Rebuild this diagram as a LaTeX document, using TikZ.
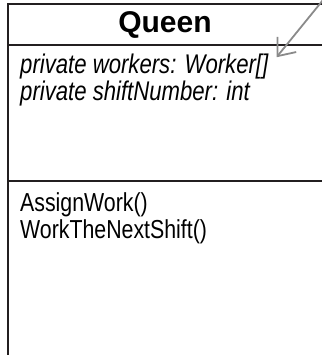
\documentclass[tikz,border=0pt]{standalone}
\usepackage{fontspec}
\setmainfont{Liberation Sans}
\newfontfamily\narrowfont[FakeStretch=0.82]{Liberation Sans}
\usetikzlibrary{arrows.meta}
\definecolor{boxgray}{HTML}{231F20}
\definecolor{pointergray}{HTML}{8A8A8A}
\tikzset{
  boxline/.style={draw=boxgray, line width=2bp},
  member/.style={anchor=base west, inner sep=0pt, font=\narrowfont\fontsize{26bp}{27bp}\selectfont},
  field/.style={member, font=\narrowfont\itshape\fontsize{27bp}{28bp}\selectfont},
  pointer/.style={draw=pointergray, line width=1.8bp, -{Straight Barb[length=15bp, width=24bp, line width=1.8bp]}}
}
\begin{document}
\begin{tikzpicture}[x=1bp, y=-1bp]
    \useasboundingbox (0,0) rectangle (322,355);

    % Class box
    \draw[boxline] (8,4) rectangle (330,370);
    \draw[boxline] (8,44.5) -- (330,44.5);
    \draw[boxline] (8,181) -- (330,181);

    \node[font=\bfseries\fontsize{30bp}{31bp}\selectfont] (name) at (165,25) {Queen};

    % Fields
    \node[field] (workers) at (20,73) {private workers: Worker[]};
    \node[field] (shift) at (20,100) {private shiftNumber: int};

    % Methods
    \node[member] (assign) at (20,211) {AssignWork()};
    \node[member] (next) at (20,238) {WorkTheNextShift()};

    % Pointer from outside
    \coordinate (corner) at (323,0);
    \draw[pointer] (corner) -- ([xshift=8bp, yshift=-4bp]workers.north east);
\end{tikzpicture}
\end{document}
